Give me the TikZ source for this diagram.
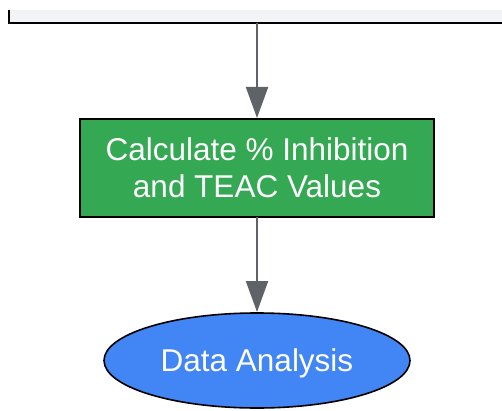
\documentclass[tikz,border=0pt]{standalone}
\usepackage{fontspec}
\setmainfont{Liberation Sans}
\usetikzlibrary{arrows.meta, positioning, shapes.geometric}

\definecolor{panelgray}{HTML}{F1F3F4}
\definecolor{calcgreen}{HTML}{34A853}
\definecolor{datablue}{HTML}{4285F4}
\definecolor{arrowgray}{HTML}{5F6368}

\begin{document}
\begin{tikzpicture}[x=1pt, y=1pt,
						node distance=96pt,
						panel/.style={rectangle, fill=panelgray, minimum width=496pt, minimum height=13pt, inner sep=0pt, outer sep=0pt},
						block/.style={draw, rectangle, line width=1.6pt, fill=calcgreen, minimum width=354pt, minimum height=98pt, inner sep=0pt, outer sep=0pt, text=white, align=center, font=\fontsize{31.5}{37}\selectfont},
						terminal/.style={draw, ellipse, line width=1.6pt, fill=datablue, minimum width=306pt, minimum height=95pt, inner sep=0pt, outer sep=0pt, text=white, text depth=0pt, font=\fontsize{31.5}{37}\selectfont},
						every edge/.append style={draw=arrowgray, line width=2.2pt, -{Triangle[length=31pt, width=22pt]}, shorten > = 1pt},]
		\useasboundingbox (0,0) rectangle (502,-411);
		\node (panel) [panel] at (257,-16.5) {};
		\draw[line width=2pt] (panel.north west) |- (panel.south east);
		\node (calc) [block, below=of panel] {Calculate \% Inhibition\\and TEAC Values};
		\node (data) [terminal, below=of calc] {Data Analysis};

		\path 	(panel) 	edge 	(calc)
				(calc) 		edge 	(data);
	\end{tikzpicture}
\end{document}
